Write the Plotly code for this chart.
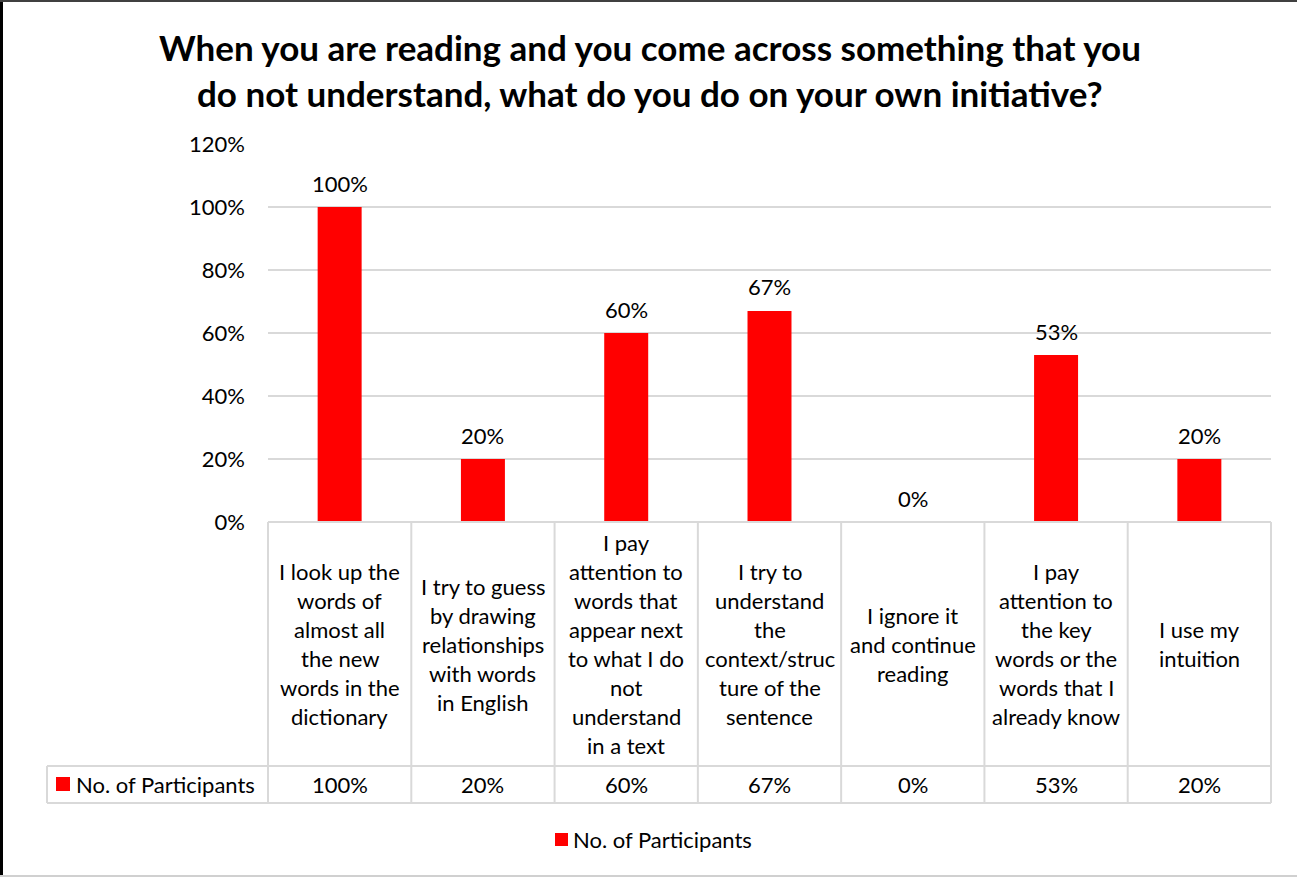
import plotly.graph_objects as go

# Survey responses: share of participants choosing each strategy
category_lines = [
    ["I look up the", "words of", "almost all", "the new", "words in the", "dictionary"],
    ["I try to guess", "by drawing", "relationships", "with words", "in English"],
    ["I pay", "attention to", "words that", "appear next", "to what I do", "not", "understand", "in a text"],
    ["I try to", "understand", "the", "context/struc", "ture of the", "sentence"],
    ["I ignore it", "and continue", "reading"],
    ["I pay", "attention to", "the key", "words or the", "words that I", "already know"],
    ["I use my", "intuition"],
]
values = [1.00, 0.20, 0.60, 0.67, 0.00, 0.53, 0.20]
series_name = "No. of Participants"
title_lines = [
    "When you are reading and you come across something that you",
    "do not understand, what do you do on your own initiative?",
]

W, H = 1297, 877
L, R, T, B = 268, 1271, 144, 522          # plot area in pixels
FONT = "Lato"
RED = "#ff0000"
GRID = "#d9d9d9"


def px_x(p):
    return (p - L) / (R - L)


def px_y(p):
    return (B - p) / (B - T)


x_idx = list(range(len(values)))

fig = go.Figure(
    go.Bar(
        x=x_idx,
        y=values,
        marker=dict(color=RED, line=dict(width=0)),
        name=series_name,
        showlegend=False,
        hoverinfo="skip",
    )
)

shapes = []
annotations = []

# value labels above bars
for i, v in enumerate(values):
    annotations.append(dict(
        x=i, y=v, xref="x", yref="y", text=f"{v:.0%}", showarrow=False,
        yanchor="middle", yshift=24, font=dict(family=FONT, size=22, color="#000000"),
    ))

# data table grid
line_style = dict(color=GRID, width=2)
for k in range(len(values) + 1):
    xb = px_x(L + k * (R - L) / len(values))
    shapes.append(dict(type="line", xref="paper", yref="paper",
                       x0=xb, x1=xb, y0=px_y(522), y1=px_y(803), line=line_style))
shapes.append(dict(type="line", xref="paper", yref="paper",
                   x0=px_x(268), x1=px_x(1271), y0=px_y(522), y1=px_y(522), line=line_style))
for py in (766, 803):
    shapes.append(dict(type="line", xref="paper", yref="paper",
                       x0=px_x(47), x1=px_x(1271), y0=px_y(py), y1=px_y(py), line=line_style))
shapes.append(dict(type="line", xref="paper", yref="paper",
                   x0=px_x(47), x1=px_x(47), y0=px_y(766), y1=px_y(803), line=line_style))

# category labels, one annotation per wrapped line
row_center, line_gap = 644, 29
for i, lines in enumerate(category_lines):
    n = len(lines)
    for j, txt in enumerate(lines):
        py = row_center + (j - (n - 1) / 2) * line_gap
        annotations.append(dict(
            x=i, y=px_y(py), xref="x", yref="paper", text=txt, showarrow=False,
            xanchor="center", yanchor="middle", font=dict(family=FONT, size=22, color="#000000"),
        ))

# value row
for i, v in enumerate(values):
    annotations.append(dict(
        x=i, y=px_y(784), xref="x", yref="paper", text=f"{v:.0%}", showarrow=False,
        xanchor="center", yanchor="middle", font=dict(family=FONT, size=22, color="#000000"),
    ))
shapes.append(dict(type="rect", xref="paper", yref="paper", x0=px_x(56), x1=px_x(70),
                   y0=px_y(777), y1=px_y(791), fillcolor=RED, line=dict(width=0)))
annotations.append(dict(
    x=px_x(74), y=px_y(784), xref="paper", yref="paper", text=series_name, showarrow=False,
    xanchor="left", yanchor="middle", font=dict(family=FONT, size=22, color="#000000"),
))

# legend key
shapes.append(dict(type="rect", xref="paper", yref="paper", x0=px_x(555), x1=px_x(568),
                   y0=px_y(833), y1=px_y(846), fillcolor=RED, line=dict(width=0)))
annotations.append(dict(
    x=px_x(571), y=px_y(839), xref="paper", yref="paper", text=series_name, showarrow=False,
    xanchor="left", yanchor="middle", font=dict(family=FONT, size=22, color="#000000"),
))

# title
for j, (txt, py) in enumerate(zip(title_lines, (47, 93))):
    annotations.append(dict(
        x=px_x(650), y=px_y(py), xref="paper", yref="paper", text=f"<b>{txt}</b>", showarrow=False,
        xanchor="center", yanchor="middle", font=dict(family=FONT, size=35, color="#000000"),
    ))

# chart frame
shapes.append(dict(type="line", xref="paper", yref="paper", x0=px_x(1.5), x1=px_x(1.5),
                   y0=px_y(0), y1=px_y(877), line=dict(color="#000000", width=3)))
shapes.append(dict(type="line", xref="paper", yref="paper", x0=px_x(0), x1=px_x(1297),
                   y0=px_y(1), y1=px_y(1), line=dict(color="#404040", width=2)))
shapes.append(dict(type="line", xref="paper", yref="paper", x0=px_x(0), x1=px_x(1297),
                   y0=px_y(876), y1=px_y(876), line=dict(color="#d0d0d0", width=2)))

fig.update_layout(
    width=W, height=H,
    margin=dict(l=L, r=W - R, t=T, b=H - B, pad=0),
    paper_bgcolor="#ffffff", plot_bgcolor="#ffffff",
    bargap=0.693,
    font=dict(family=FONT, size=22, color="#000000"),
    xaxis=dict(range=[-0.5, len(values) - 0.5], showticklabels=False, showgrid=False,
               zeroline=False, showline=False, ticks="", fixedrange=True),
    yaxis=dict(range=[0, 1.2], dtick=0.2, tickformat=".0%", showgrid=True, gridcolor=GRID,
               gridwidth=2, zeroline=False, showline=False, ticks="", ticklabelstandoff=22,
               tickfont=dict(family=FONT, size=22, color="#000000"), fixedrange=True),
    shapes=shapes,
    annotations=annotations,
)

fig.write_html("out.html")
